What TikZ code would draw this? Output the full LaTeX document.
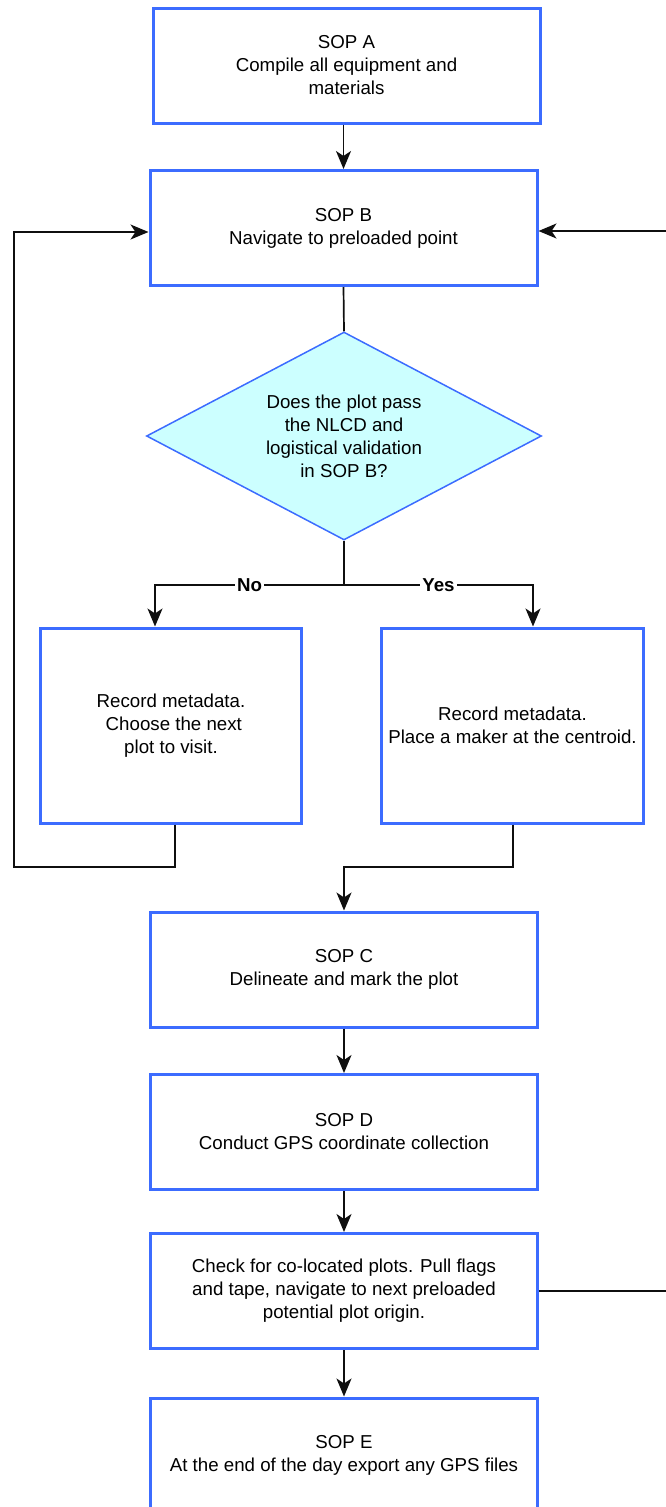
\documentclass[tikz,border=0pt]{standalone}
\usepackage{fontspec}
\setmainfont{Liberation Sans}
\usetikzlibrary{shapes.geometric,arrows.meta}
\definecolor{boxblue}{RGB}{60,108,255}
\definecolor{diafill}{RGB}{204,255,255}
\definecolor{linegray}{RGB}{15,15,15}
\begin{document}
\begin{tikzpicture}[x=1pt,y=-1pt,
  txt/.style={font=\fontsize{18.7}{23}\selectfont},
  box/.style={txt,draw=boxblue,line width=3pt,fill=white,rectangle,minimum width=387pt,minimum height=115pt,inner sep=0pt,align=center},
  sidebox/.style={box,minimum width=261.5pt,minimum height=195pt},
  decision/.style={txt,diamond,aspect=1.9,draw=boxblue,line width=1.5pt,fill=diafill,minimum width=395pt,minimum height=208pt,inner sep=0pt,align=center},
  conn/.style={draw=linegray,line width=1.7pt},
  arr/.style={conn,-{Stealth[length=18pt,width=15pt,inset=5pt]}},
  lbl/.style={fill=white,font=\fontsize{18.7}{23}\selectfont\bfseries,inner sep=2pt}]
\useasboundingbox (0,0) rectangle (666,1507);
\clip (0,0) rectangle (666,1507);

\node[box] (a) at (346.5,65.5) {SOP A\\Compile all equipment and\\materials};
\node[box] (b) at (343.5,228) {SOP B\\Navigate to preloaded point};
\node[decision] (q) at (344,436) {Does the plot pass\\the NLCD and\\logistical validation\\in SOP B?};
\node[sidebox] (n) at (171,725.5) {Record metadata.\\\hspace*{0.3em}Choose the next\\plot to visit.};
\node[sidebox] (y) at (512.5,725.5) {Record metadata.\\Place a maker at the centroid.};
\node[box] (c) at (344,969.5) {SOP C\\Delineate and mark the plot};
\node[box] (d) at (344,1132) {SOP D\\Conduct GPS coordinate collection};
\node[box] (chk) at (344,1291) {Check for co-located plots. Pull flags\\and tape, navigate to next preloaded\\potential plot origin.};
\node[box] (e) at (344,1455.5) {SOP E\\At the end of the day export any GPS files};

\coordinate (split) at (344,585);
\coordinate (nturn) at (155,585);
\coordinate (yturn) at (533,585);
\coordinate (l1) at (175,867);
\coordinate (l2) at (14,867);
\coordinate (l3) at (14,232);
\coordinate (r1) at (513,867);
\coordinate (r2) at (344,867);
\coordinate (edge1) at (666,1291);
\coordinate (edge2) at (666,231);

\draw[arr] (b.north |- a.south) -- (b.north);
\draw[conn] (b.south) -- (q.north);
\draw[conn] (q.south) -- (split);
\draw[arr] (split) -- node[lbl] {No} (nturn) -- (nturn |- n.north);
\draw[arr] (split) -- node[lbl] {Yes} (yturn) -- (yturn |- y.north);
\draw[arr] (l1 |- n.south) -- (l1) -- (l2) -- (l3) -- (l3 -| b.west);
\draw[arr] (r1 |- y.south) -- (r1) -- (r2) -- (r2 |- c.north);
\draw[arr] (c.south) -- (d.north);
\draw[arr] (d.south) -- (chk.north);
\draw[arr] (chk.south) -- (e.north);
\draw[conn] (chk.east) -- (edge1);
\draw[arr] (edge2) -- (edge2 -| b.east);
\end{tikzpicture}
\end{document}
